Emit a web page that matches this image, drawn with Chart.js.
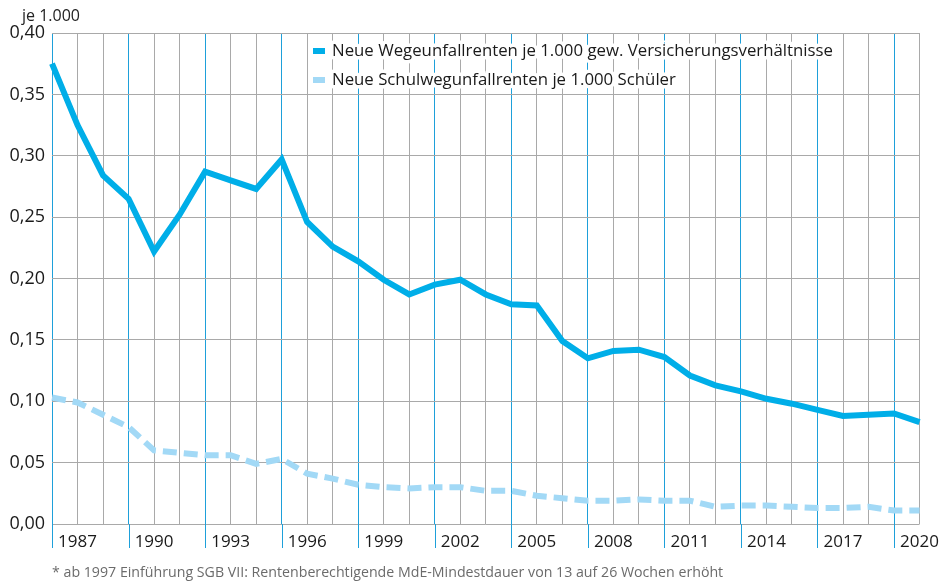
<!DOCTYPE html>
<html lang="de">
<head>
  <meta charset="UTF-8">
  <title>Neue Wegeunfallrenten</title>
  <script src="https://cdn.jsdelivr.net/npm/chart.js"></script>
  <style>
    body { margin: 0; background: #fff; font-family: "Open Sans", sans-serif; }
    .wrap { position: relative; width: 947px; height: 581px; }
    .einheit { position: absolute; left: 22px; top: 4px; font-size: 16px; color: #222; }
    .fussnote { position: absolute; left: 52px; top: 562px; font-size: 14.2px; color: #6b6b6b; white-space: nowrap; }
  </style>
</head>
<body>
  <div class="wrap">
    <canvas id="grafik"></canvas>
    <div class="einheit">je 1.000</div>
    <div class="fussnote">* ab 1997 Einführung SGB VII: Rentenberechtigende MdE-Mindestdauer von 13 auf 26 Wochen erhöht</div>
  </div>

<script>
  // Daten
  var jahre = [1986, 1987, 1988, 1989, 1990, 1991, 1992, 1993, 1994, 1995, 1996, 1997,
    1998, 1999, 2000, 2001, 2002, 2003, 2004, 2005, 2006, 2007, 2008, 2009, 2010,
    2011, 2012, 2013, 2014, 2015, 2016, 2017, 2018, 2019, 2020]

  var wegeunfallrenten = [0.375, 0.325, 0.284, 0.265, 0.222, 0.252, 0.287, 0.280, 0.273, 0.297,
    0.246, 0.226, 0.214, 0.199, 0.187, 0.195, 0.199, 0.187, 0.179, 0.178, 0.149, 0.135,
    0.141, 0.142, 0.136, 0.121, 0.113, 0.108, 0.102, 0.098, 0.093, 0.088, 0.089, 0.090, 0.083]

  var schulwegunfallrenten = [0.103, 0.099, 0.089, 0.079, 0.060, 0.058, 0.056, 0.056, 0.049, 0.053,
    0.041, 0.037, 0.032, 0.030, 0.029, 0.030, 0.030, 0.027, 0.027, 0.023, 0.021, 0.019,
    0.019, 0.020, 0.019, 0.019, 0.014, 0.015, 0.015, 0.014, 0.013, 0.013, 0.014, 0.011, 0.011]

  var namen = ["Neue Wegeunfallrenten je 1.000 gew. Versicherungsverhältnisse",
    "Neue Schulwegunfallrenten je 1.000 Schüler"]

  var farbeDunkel = "#00aee8"
  var farbeHell = "#a2d9f6"
  var blauLinie = "#1ea0da"
  var grauLinie = "#a9a9a9"
  var schrift = '"Open Sans", sans-serif'

  // blaue Linien alle 3 Jahre ab 1986 (unter die Achse verlaengert)
  const tickPlugin = {
    id: 'tickPlugin',
    afterDraw(chart) {
      const ctx = chart.ctx
      const x = chart.scales.x
      const unten = chart.chartArea.bottom
      ctx.save()
      ctx.strokeStyle = blauLinie
      ctx.lineWidth = 1
      jahre.forEach(function (j, i) {
        if ((j - 1986) % 3 == 0) {
          const px = Math.round(x.getPixelForValue(i)) + 0.5
          ctx.beginPath()
          ctx.moveTo(px, unten)
          ctx.lineTo(px, unten + 24)
          ctx.stroke()
        }
      })
      ctx.restore()
    }
  }

  // Legende mit weissem Rand um den Text
  const legendePlugin = {
    id: 'legendePlugin',
    afterDraw(chart) {
      const ctx = chart.ctx
      ctx.save()
      ctx.font = '16.8px ' + schrift
      ctx.textBaseline = 'middle'
      chart.data.datasets.forEach(function (ds, i) {
        const y = 51 + i * 29
        ctx.fillStyle = '#fff'
        ctx.fillRect(310, y - 6, 18, 12)
        ctx.fillStyle = ds.borderColor
        ctx.fillRect(313, y - 3, 12, 6)
        ctx.strokeStyle = '#fff'
        ctx.lineWidth = 7
        ctx.lineJoin = 'round'
        ctx.strokeText(ds.label, 332, y)
        ctx.fillStyle = '#1a1a1a'
        ctx.fillText(ds.label, 332, y)
      })
      ctx.restore()
    }
  }

  const config = {
    type: 'line',
    data: {
      labels: jahre,
      datasets: [{
        label: namen[0],
        data: wegeunfallrenten,
        borderColor: farbeDunkel,
        backgroundColor: farbeDunkel,
        borderWidth: 6,
        pointRadius: 0,
        tension: 0
      }, {
        label: namen[1],
        data: schulwegunfallrenten,
        borderColor: farbeHell,
        backgroundColor: farbeHell,
        borderWidth: 6,
        borderDash: [14, 7],
        borderCapStyle: 'butt',
        pointRadius: 0,
        tension: 0
      }]
    },
    options: {
      responsive: true,
      maintainAspectRatio: false,
      animation: false,
      layout: { padding: { left: 0, top: 33, right: 26, bottom: 33 } },
      plugins: {
        legend: { display: false },
        tooltip: { enabled: false }
      },
      scales: {
        x: {
          type: 'category',
          offset: false,
          border: { display: false },
          grid: {
            offset: false,
            drawTicks: false,
            color: function (c) {
              return (jahre[c.index] - 1986) % 3 == 0 ? blauLinie : grauLinie
            }
          },
          ticks: {
            autoSkip: false,
            maxRotation: 0,
            padding: 8,
            color: '#1a1a1a',
            font: { family: schrift, size: 17 },
            callback: function (val, idx) {
              return (jahre[idx] - 1987) % 3 == 0 ? String(jahre[idx]) : ''
            }
          },
          afterFit: function (s) { s.height = 24 }
        },
        y: {
          min: 0,
          max: 0.4,
          border: { display: false },
          grid: { color: grauLinie, drawTicks: false },
          ticks: {
            stepSize: 0.05,
            padding: 7,
            color: '#1a1a1a',
            font: { family: schrift, size: 18 },
            callback: function (v) { return v.toFixed(2).replace('.', ',') }
          },
          afterFit: function (s) { s.width = 52 }
        }
      }
    },
    plugins: [tickPlugin, legendePlugin]
  }

  const grafik = new Chart(document.getElementById('grafik'), config)
</script>
</body>
</html>
